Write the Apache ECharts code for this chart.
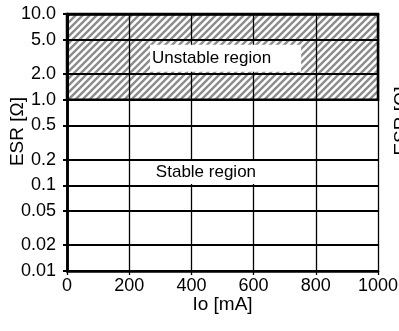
<!DOCTYPE html>
<html>
<head>
<meta charset="utf-8">
<style>html,body{margin:0;padding:0;background:#fff;}#c{width:399px;height:331px;}</style>
<script src="https://cdn.jsdelivr.net/npm/echarts@6/dist/echarts.min.js"></script>
</head>
<body>
<div id="c"></div>
<script>
// ---- data ----
var xTickValues = [0, 200, 400, 600, 800, 1000];
var yTickValues = [0.01, 0.02, 0.05, 0.1, 0.2, 0.5, 1, 2, 5, 10];
var yTickLabels = ['0.01', '0.02', '0.05', '0.1', '0.2', '0.5', '1.0', '2.0', '5.0', '10.0'];
var xTitle = 'Io [mA]';
var yTitle = 'ESR [\u03a9]';
// unstable region: ESR from 1.0 to 10.0 over the whole Io range
var unstableRange = { x: [0, 1000], y: [1, 10] };
// region labels (anchor = left edge of the label box, in data units)
var regionNames = ['Unstable region', 'Stable region'];
var regionX = [267, 260];
var regionY = [3.05, 0.141];

var FONT = 'Liberation Sans, Arial, sans-serif';

function yLabel(v) {
  for (var i = 0; i < yTickValues.length; i++) {
    if (Math.abs(v - yTickValues[i]) / yTickValues[i] < 1e-6) return yTickLabels[i];
  }
  return '';
}

// hatch pattern
var pc = document.createElement('canvas');
pc.width = 7; pc.height = 7;
var g = pc.getContext('2d');
g.fillStyle = '#ffffff'; g.fillRect(0, 0, 7, 7);
g.strokeStyle = '#8c8c8c'; g.lineWidth = 2.4;
g.beginPath();
g.moveTo(-1, 8); g.lineTo(8, -1);
g.moveTo(-8, 8); g.lineTo(1, -1);
g.moveTo(6, 8); g.lineTo(15, -1);
g.stroke();

var chart = echarts.init(document.getElementById('c'), null, { renderer: 'canvas' });

var labelPad = [[5, 30, 5, 2], [3, 8, 3, 8]];
var labelData = regionNames.map(function (n, i) {
  return { name: n, value: [regionX[i], regionY[i]], label: { padding: labelPad[i] } };
});

chart.setOption({
  animation: false,
  backgroundColor: '#fff',
  grid: { left: 67, right: 21, top: 14, bottom: 60, containLabel: false, outerBoundsMode: 'none' },
  xAxis: [{
    type: 'value', min: 0, max: 1000, interval: 200, z: 5,
    axisLine: { show: true, onZero: false, lineStyle: { color: '#000', width: 2.5 } },
    axisTick: { show: true, length: 4, lineStyle: { color: '#000', width: 1.3 } },
    splitLine: { show: true, lineStyle: { color: '#000', width: 1.3 } },
    axisLabel: { color: '#000', fontSize: 18, fontFamily: FONT, margin: 6, formatter: function (v) { return String(v); } },
    name: xTitle, nameLocation: 'middle', nameGap: 24, nameMoveOverlap: false,
    nameTextStyle: { color: '#000', fontSize: 19, fontFamily: FONT }
  }, {
    type: 'value', min: 0, max: 1000, position: 'top', z: 5,
    axisLine: { show: true, lineStyle: { color: '#000', width: 2.5 } },
    axisTick: { show: false }, axisLabel: { show: false }, splitLine: { show: false }
  }],
  yAxis: [{
    type: 'log', logBase: 10, min: 0.01, max: 10, z: 5,
    axisLine: { show: true, onZero: false, lineStyle: { color: '#000', width: 2.5 } },
    axisTick: { show: true, length: 4, customValues: yTickValues, lineStyle: { color: '#000', width: 2 } },
    splitLine: { show: true, lineStyle: { color: '#000', width: 2 } },
    minorTick: { show: false }, minorSplitLine: { show: false },
    axisLabel: { color: '#000', fontSize: 18, fontFamily: FONT, margin: 11, customValues: yTickValues, formatter: yLabel },
    name: yTitle, nameLocation: 'middle', nameGap: 40, nameRotate: 90, nameMoveOverlap: false,
    nameTextStyle: { color: '#000', fontSize: 19, fontFamily: FONT, padding: [0, 0, 0, 22] }
  }, {
    type: 'log', logBase: 10, min: 0.01, max: 10, position: 'right', z: 5,
    axisLine: { show: true, lineStyle: { color: '#000', width: 2.5 } },
    axisTick: { show: false }, axisLabel: { show: false }, splitLine: { show: false }
  }],
  graphic: [{
    type: 'text', x: 402, y: 121, rotation: Math.PI / 2,
    style: { text: yTitle, font: '19px ' + FONT, fill: '#000', align: 'center', verticalAlign: 'middle' }
  }],
  series: [{
    type: 'line', data: [], z: 1, silent: true,
    markArea: {
      silent: true,
      itemStyle: { color: { image: pc, repeat: 'repeat' }, borderColor: '#000', borderWidth: 2.5, opacity: 1 },
      data: [[{ xAxis: unstableRange.x[0], yAxis: unstableRange.y[0] }, { xAxis: unstableRange.x[1], yAxis: unstableRange.y[1] }]]
    }
  }, {
    type: 'scatter', z: 10, symbolSize: 0, silent: true,
    data: labelData,
    label: {
      show: true, position: 'right', distance: 0,
      formatter: function (p) { return p.name; },
      color: '#000', opacity: 1, fontSize: 17, fontFamily: FONT, backgroundColor: '#fff',
      lineHeight: 17
    },
    emphasis: { disabled: true }
  }]
});
</script>
</body>
</html>
